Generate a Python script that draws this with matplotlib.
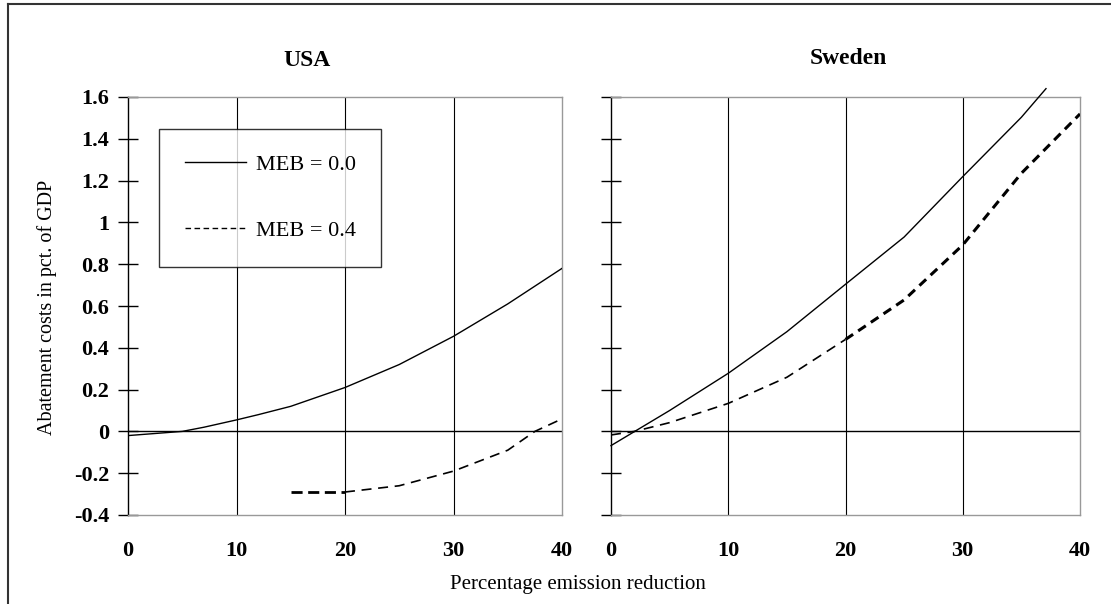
import matplotlib.pyplot as plt
from matplotlib.lines import Line2D

# USA, abatement costs in pct. of GDP
usa_x = [0, 5, 7, 10, 12, 15, 20, 25, 30, 35, 40]
usa_meb0 = [-0.02, 0.0, 0.02, 0.055, 0.08, 0.12, 0.21, 0.32, 0.455, 0.61, 0.78]
usa_x4 = [15, 20, 25, 30, 35, 37.5, 40]
usa_meb4 = [-0.29, -0.29, -0.26, -0.19, -0.09, 0.0, 0.06]

# Sweden
swe_x = [0, 5, 10, 15, 20, 25, 30, 35, 37.1]
swe_meb0 = [-0.068, 0.1, 0.278, 0.477, 0.704, 0.93, 1.219, 1.503, 1.64]
swe_x4 = [0, 2, 5, 10, 15, 20, 25, 30, 35, 40]
swe_meb4 = [-0.017, 0.0, 0.042, 0.134, 0.259, 0.44, 0.629, 0.892, 1.235, 1.519]

x_ticks = [0, 10, 20, 30, 40]
y_ticks = [-0.4, -0.2, 0, 0.2, 0.4, 0.6, 0.8, 1, 1.2, 1.4, 1.6]
y_labels = ['-0.4', '-0.2', '0', '0.2', '0.4', '0.6', '0.8', '1', '1.2', '1.4', '1.6']

plt.rcParams['font.family'] = ['Liberation Serif', 'DejaVu Serif']

W, H = 1111, 604
fig = plt.figure(figsize=(W / 100, H / 100), dpi=100)


def px_axes(left, top, right, bottom):
    return fig.add_axes([left / W, 1 - bottom / H, (right - left) / W, (bottom - top) / H])


def style(ax, show_labels):
    ax.set_xlim(0, 40)
    ax.set_ylim(-0.4, 1.6)
    for side in ['top', 'right', 'bottom']:
        ax.spines[side].set_color('#999999')
        ax.spines[side].set_linewidth(1.0)
    ax.spines['left'].set_color('black')
    ax.spines['left'].set_linewidth(1.0)
    for xv in x_ticks[1:-1]:
        ax.axvline(xv, color='black', lw=0.8, zorder=1)
    ax.axhline(0, color='black', lw=1.0, zorder=1)
    ax.set_yticks(y_ticks)
    ax.tick_params(axis='y', direction='inout', length=15, width=1.0, pad=6)
    if show_labels:
        ax.set_yticklabels(y_labels, fontsize=16, fontweight='bold')
    else:
        ax.set_yticklabels([])
    ax.set_xticks(x_ticks)
    ax.tick_params(axis='x', length=0, pad=19)
    ax.set_xticklabels([str(v) for v in x_ticks], fontsize=16, fontweight='bold')


ax1 = px_axes(128, 97, 562, 515)
style(ax1, True)
ax1.plot(usa_x, usa_meb0, color='black', lw=1.0, zorder=3)
lo = [i for i, v in enumerate(usa_x4) if v <= 20]
hi = [i for i, v in enumerate(usa_x4) if v >= 20]
ax1.plot([usa_x4[i] for i in lo], [usa_meb4[i] for i in lo], color='black', lw=2.0,
         ls=(0, (4, 2)), zorder=3)
ax1.plot([usa_x4[i] for i in hi], [usa_meb4[i] for i in hi], color='black', lw=1.2,
         ls=(0, (6, 4)), zorder=3)

ax2 = px_axes(611, 97, 1080, 515)
style(ax2, False)
ax2.plot(swe_x, swe_meb0, color='black', lw=1.0, zorder=3, clip_on=False)
lo = [i for i, v in enumerate(swe_x4) if v <= 20]
hi = [i for i, v in enumerate(swe_x4) if v >= 20]
ax2.plot([swe_x4[i] for i in lo], [swe_meb4[i] for i in lo], color='black', lw=1.2,
         ls=(0, (6, 4)), zorder=3)
ax2.plot([swe_x4[i] for i in hi], [swe_meb4[i] for i in hi], color='black', lw=2.2,
         ls=(0, (3, 2)), zorder=3)

# panel titles
fig.text(307 / W, 1 - 60 / H, 'USA', ha='center', va='center', fontsize=17,
         fontweight='bold')
fig.text(848 / W, 1 - 59 / H, 'Sweden', ha='center', va='center', fontsize=17,
         fontweight='bold')

# legend box in USA panel
handles = [Line2D([], [], color='black', lw=1.0),
           Line2D([], [], color='black', lw=1.0, ls=(0, (4, 2.5)))]
leg = ax1.legend(handles, ['MEB = 0.0', 'MEB = 0.4'], loc='upper left',
                 bbox_to_anchor=((159 - 128) / 434, (515 - 129) / 418),
                 fontsize=16, frameon=True, fancybox=False, edgecolor='black',
                 handlelength=2.75, handletextpad=0.45, labelspacing=2.05,
                 borderpad=1.15, borderaxespad=0)
leg.get_frame().set_linewidth(1.0)
leg.set_zorder(5)

fig.text(47 / W, 1 - 307 / H, 'Abatement costs in pct. of GDP', rotation=90,
         ha='center', va='center', fontsize=14.5)
fig.text(578 / W, 1 - 584 / H, 'Percentage emission reduction', ha='center',
         va='center', fontsize=15)

# outer frame (left and top edges only)
fig.add_artist(Line2D([8 / W, 8 / W], [0, 1 - 4 / H], color='#333333', lw=1.5))
fig.add_artist(Line2D([8 / W, 1], [1 - 4 / H, 1 - 4 / H], color='#333333', lw=1.5))

fig.savefig('out.png', dpi=100)
